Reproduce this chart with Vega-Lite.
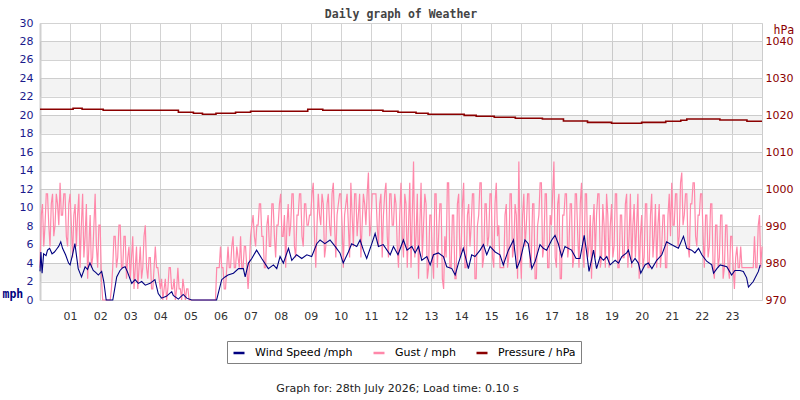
{
  "$schema": "https://vega.github.io/schema/vega-lite/v6.json",
  "width": 722,
  "height": 277,
  "autosize": {"type": "none"},
  "padding": {"left": 40, "top": 23, "right": 38, "bottom": 100},
  "background": "white",
  "title": {
    "text": "Daily graph of Weather",
    "font": "DejaVu Sans Mono",
    "fontSize": 11.5,
    "fontWeight": "bold",
    "color": "#444444",
    "anchor": "middle",
    "offset": 5,
    "dy": 8
  },
  "config": {
    "view": {"stroke": "#cccccc"},
    "axis": {"labelFont": "DejaVu Sans", "labelFontSize": 11, "labelOverlap": false}
  },
  "datasets": {
    "bands": [
      {"mph": 2, "mph2": 4}, {"mph": 6, "mph2": 8}, {"mph": 10, "mph2": 12},
      {"mph": 14, "mph2": 16}, {"mph": 18, "mph2": 20}, {"mph": 22, "mph2": 24},
      {"mph": 26, "mph2": 28}
    ],
    "gust": [
      {"t":0,"mph":3.5},{"t":0.042,"mph":9.2},{"t":0.083,"mph":10.4},{"t":0.125,"mph":5.8},{"t":0.167,"mph":8.1},{"t":0.208,"mph":11.5},{"t":0.25,"mph":11.5},{"t":0.292,"mph":8.1},{"t":0.333,"mph":5.8},{"t":0.375,"mph":10.4},{"t":0.417,"mph":11.5},{"t":0.458,"mph":6.9},{"t":0.5,"mph":8.1},{"t":0.542,"mph":11.5},{"t":0.583,"mph":10.4},{"t":0.625,"mph":8.1},{"t":0.667,"mph":12.7},{"t":0.708,"mph":9.2},{"t":0.75,"mph":9.2},{"t":0.792,"mph":11.5},{"t":0.833,"mph":11.5},{"t":0.875,"mph":6.9},{"t":0.917,"mph":5.8},{"t":0.958,"mph":10.4},
      {"t":1,"mph":11.5},{"t":1.042,"mph":8.1},{"t":1.083,"mph":4.6},{"t":1.125,"mph":9.2},{"t":1.167,"mph":10.4},{"t":1.208,"mph":5.8},{"t":1.25,"mph":9.2},{"t":1.292,"mph":11.5},{"t":1.333,"mph":3.5},{"t":1.375,"mph":8.1},{"t":1.417,"mph":11.5},{"t":1.458,"mph":4.6},{"t":1.5,"mph":6.9},{"t":1.542,"mph":10.4},{"t":1.583,"mph":2.3},{"t":1.625,"mph":5.8},{"t":1.667,"mph":9.2},{"t":1.708,"mph":3.5},{"t":1.75,"mph":4.6},{"t":1.792,"mph":8.1},{"t":1.833,"mph":11.5},{"t":1.875,"mph":5.8},{"t":1.917,"mph":3.5},{"t":1.958,"mph":8.1},
      {"t":2,"mph":8.1},{"t":2.042,"mph":2.3},{"t":2.083,"mph":0},{"t":2.125,"mph":0},{"t":2.167,"mph":0},{"t":2.208,"mph":0},{"t":2.25,"mph":0},{"t":2.292,"mph":0},{"t":2.333,"mph":0},{"t":2.375,"mph":1.2},{"t":2.417,"mph":3.5},{"t":2.458,"mph":6.9},{"t":2.5,"mph":6.9},{"t":2.542,"mph":3.5},{"t":2.583,"mph":4.6},{"t":2.625,"mph":8.1},{"t":2.667,"mph":8.1},{"t":2.708,"mph":3.5},{"t":2.75,"mph":3.5},{"t":2.792,"mph":6.9},{"t":2.833,"mph":6.9},{"t":2.875,"mph":2.3},{"t":2.917,"mph":4.6},{"t":2.958,"mph":5.8},
      {"t":3,"mph":2.3},{"t":3.042,"mph":4.6},{"t":3.083,"mph":6.9},{"t":3.125,"mph":1.2},{"t":3.167,"mph":3.5},{"t":3.208,"mph":5.8},{"t":3.25,"mph":1.2},{"t":3.292,"mph":3.5},{"t":3.333,"mph":5.8},{"t":3.375,"mph":2.3},{"t":3.417,"mph":3.5},{"t":3.458,"mph":6.9},{"t":3.5,"mph":8.1},{"t":3.542,"mph":3.5},{"t":3.583,"mph":2.3},{"t":3.625,"mph":4.6},{"t":3.667,"mph":4.6},{"t":3.708,"mph":1.2},{"t":3.75,"mph":1.2},{"t":3.792,"mph":3.5},{"t":3.833,"mph":5.8},{"t":3.875,"mph":3.5},{"t":3.917,"mph":3.5},{"t":3.958,"mph":2.3},
      {"t":4,"mph":1.2},{"t":4.042,"mph":2.3},{"t":4.083,"mph":0},{"t":4.125,"mph":1.2},{"t":4.167,"mph":2.3},{"t":4.208,"mph":0},{"t":4.25,"mph":1.2},{"t":4.292,"mph":3.5},{"t":4.333,"mph":3.5},{"t":4.375,"mph":1.2},{"t":4.417,"mph":1.2},{"t":4.458,"mph":2.3},{"t":4.5,"mph":0},{"t":4.542,"mph":1.2},{"t":4.583,"mph":3.5},{"t":4.625,"mph":1.2},{"t":4.667,"mph":1.2},{"t":4.708,"mph":0},{"t":4.75,"mph":2.3},{"t":4.792,"mph":1.2},{"t":4.833,"mph":0},{"t":4.875,"mph":1.2},{"t":4.917,"mph":1.2},{"t":4.958,"mph":0},
      {"t":5,"mph":0},{"t":5.042,"mph":0},{"t":5.083,"mph":0},{"t":5.125,"mph":0},{"t":5.167,"mph":0},{"t":5.208,"mph":0},{"t":5.25,"mph":0},{"t":5.292,"mph":0},{"t":5.333,"mph":0},{"t":5.375,"mph":0},{"t":5.417,"mph":0},{"t":5.458,"mph":0},{"t":5.5,"mph":0},{"t":5.542,"mph":0},{"t":5.583,"mph":0},{"t":5.625,"mph":0},{"t":5.667,"mph":0},{"t":5.708,"mph":0},{"t":5.75,"mph":0},{"t":5.792,"mph":0},{"t":5.833,"mph":0},{"t":5.875,"mph":3.5},{"t":5.917,"mph":3.5},{"t":5.958,"mph":3.5},
      {"t":6,"mph":5.8},{"t":6.042,"mph":3.5},{"t":6.083,"mph":3.5},{"t":6.125,"mph":1.2},{"t":6.167,"mph":1.2},{"t":6.208,"mph":3.5},{"t":6.25,"mph":5.8},{"t":6.292,"mph":3.5},{"t":6.333,"mph":3.5},{"t":6.375,"mph":5.8},{"t":6.417,"mph":6.9},{"t":6.458,"mph":3.5},{"t":6.5,"mph":3.5},{"t":6.542,"mph":5.8},{"t":6.583,"mph":4.6},{"t":6.625,"mph":3.5},{"t":6.667,"mph":6.9},{"t":6.708,"mph":3.5},{"t":6.75,"mph":3.5},{"t":6.792,"mph":5.8},{"t":6.833,"mph":5.8},{"t":6.875,"mph":3.5},{"t":6.917,"mph":1.2},{"t":6.958,"mph":3.5},
      {"t":7,"mph":6.9},{"t":7.042,"mph":8.1},{"t":7.083,"mph":9.2},{"t":7.125,"mph":6.9},{"t":7.167,"mph":5.8},{"t":7.208,"mph":8.1},{"t":7.25,"mph":8.1},{"t":7.292,"mph":10.4},{"t":7.333,"mph":10.4},{"t":7.375,"mph":6.9},{"t":7.417,"mph":6.9},{"t":7.458,"mph":3.5},{"t":7.5,"mph":3.5},{"t":7.542,"mph":8.1},{"t":7.583,"mph":9.2},{"t":7.625,"mph":5.8},{"t":7.667,"mph":5.8},{"t":7.708,"mph":10.4},{"t":7.75,"mph":10.4},{"t":7.792,"mph":6.9},{"t":7.833,"mph":4.6},{"t":7.875,"mph":8.1},{"t":7.917,"mph":8.1},{"t":7.958,"mph":10.4},
      {"t":8,"mph":11.5},{"t":8.042,"mph":6.9},{"t":8.083,"mph":6.9},{"t":8.125,"mph":9.2},{"t":8.167,"mph":3.5},{"t":8.208,"mph":8.1},{"t":8.25,"mph":10.4},{"t":8.292,"mph":6.9},{"t":8.333,"mph":8.1},{"t":8.375,"mph":11.5},{"t":8.417,"mph":11.5},{"t":8.458,"mph":5.8},{"t":8.5,"mph":4.6},{"t":8.542,"mph":9.2},{"t":8.583,"mph":9.2},{"t":8.625,"mph":11.5},{"t":8.667,"mph":11.5},{"t":8.708,"mph":6.9},{"t":8.75,"mph":5.8},{"t":8.792,"mph":10.4},{"t":8.833,"mph":10.4},{"t":8.875,"mph":8.1},{"t":8.917,"mph":8.1},{"t":8.958,"mph":9.2},
      {"t":9,"mph":9.2},{"t":9.042,"mph":11.5},{"t":9.083,"mph":12.7},{"t":9.125,"mph":6.9},{"t":9.167,"mph":3.5},{"t":9.208,"mph":8.1},{"t":9.25,"mph":11.5},{"t":9.292,"mph":9.2},{"t":9.333,"mph":8.1},{"t":9.375,"mph":11.5},{"t":9.417,"mph":10.4},{"t":9.458,"mph":4.6},{"t":9.5,"mph":5.8},{"t":9.542,"mph":10.4},{"t":9.583,"mph":11.5},{"t":9.625,"mph":8.1},{"t":9.667,"mph":6.9},{"t":9.708,"mph":11.5},{"t":9.75,"mph":12.7},{"t":9.792,"mph":8.1},{"t":9.833,"mph":4.6},{"t":9.875,"mph":9.2},{"t":9.917,"mph":10.4},{"t":9.958,"mph":11.5},
      {"t":10,"mph":11.5},{"t":10.042,"mph":8.1},{"t":10.083,"mph":3.5},{"t":10.125,"mph":9.2},{"t":10.167,"mph":10.4},{"t":10.208,"mph":11.5},{"t":10.25,"mph":8.1},{"t":10.292,"mph":4.6},{"t":10.333,"mph":12.7},{"t":10.375,"mph":9.2},{"t":10.417,"mph":5.8},{"t":10.458,"mph":11.5},{"t":10.5,"mph":11.5},{"t":10.542,"mph":6.9},{"t":10.583,"mph":9.2},{"t":10.625,"mph":11.5},{"t":10.667,"mph":4.6},{"t":10.708,"mph":8.1},{"t":10.75,"mph":11.5},{"t":10.792,"mph":10.4},{"t":10.833,"mph":8.1},{"t":10.875,"mph":11.5},{"t":10.917,"mph":13.8},{"t":10.958,"mph":6.9},
      {"t":11,"mph":8.1},{"t":11.042,"mph":11.5},{"t":11.083,"mph":11.5},{"t":11.125,"mph":11.5},{"t":11.167,"mph":11.5},{"t":11.208,"mph":8.1},{"t":11.25,"mph":5.8},{"t":11.292,"mph":10.4},{"t":11.333,"mph":11.5},{"t":11.375,"mph":4.6},{"t":11.417,"mph":9.2},{"t":11.458,"mph":11.5},{"t":11.5,"mph":12.7},{"t":11.542,"mph":6.9},{"t":11.583,"mph":4.6},{"t":11.625,"mph":11.5},{"t":11.667,"mph":11.5},{"t":11.708,"mph":8.1},{"t":11.75,"mph":8.1},{"t":11.792,"mph":11.5},{"t":11.833,"mph":10.4},{"t":11.875,"mph":5.8},{"t":11.917,"mph":3.5},{"t":11.958,"mph":9.2},
      {"t":12,"mph":12.7},{"t":12.042,"mph":6.9},{"t":12.083,"mph":4.6},{"t":12.125,"mph":11.5},{"t":12.167,"mph":10.4},{"t":12.208,"mph":3.5},{"t":12.25,"mph":8.1},{"t":12.292,"mph":12.7},{"t":12.333,"mph":3.5},{"t":12.375,"mph":9.2},{"t":12.417,"mph":15.0},{"t":12.458,"mph":4.6},{"t":12.5,"mph":6.9},{"t":12.542,"mph":11.5},{"t":12.583,"mph":2.3},{"t":12.625,"mph":8.1},{"t":12.667,"mph":12.7},{"t":12.708,"mph":4.6},{"t":12.75,"mph":8.1},{"t":12.792,"mph":11.5},{"t":12.833,"mph":10.4},{"t":12.875,"mph":2.3},{"t":12.917,"mph":3.5},{"t":12.958,"mph":9.2},
      {"t":13,"mph":9.2},{"t":13.042,"mph":4.6},{"t":13.083,"mph":2.3},{"t":13.125,"mph":11.5},{"t":13.167,"mph":11.5},{"t":13.208,"mph":3.5},{"t":13.25,"mph":6.9},{"t":13.292,"mph":10.4},{"t":13.333,"mph":10.4},{"t":13.375,"mph":2.3},{"t":13.417,"mph":1.2},{"t":13.458,"mph":6.9},{"t":13.5,"mph":4.6},{"t":13.542,"mph":12.7},{"t":13.583,"mph":12.7},{"t":13.625,"mph":3.5},{"t":13.667,"mph":3.5},{"t":13.708,"mph":9.2},{"t":13.75,"mph":9.2},{"t":13.792,"mph":2.3},{"t":13.833,"mph":2.3},{"t":13.875,"mph":10.4},{"t":13.917,"mph":11.5},{"t":13.958,"mph":4.6},
      {"t":14,"mph":5.8},{"t":14.042,"mph":10.4},{"t":14.083,"mph":12.7},{"t":14.125,"mph":3.5},{"t":14.167,"mph":3.5},{"t":14.208,"mph":9.2},{"t":14.25,"mph":10.4},{"t":14.292,"mph":5.8},{"t":14.333,"mph":8.1},{"t":14.375,"mph":11.5},{"t":14.417,"mph":11.5},{"t":14.458,"mph":2.3},{"t":14.5,"mph":2.3},{"t":14.542,"mph":8.1},{"t":14.583,"mph":9.2},{"t":14.625,"mph":12.7},{"t":14.667,"mph":12.7},{"t":14.708,"mph":3.5},{"t":14.75,"mph":4.6},{"t":14.792,"mph":10.4},{"t":14.833,"mph":10.4},{"t":14.875,"mph":5.8},{"t":14.917,"mph":6.9},{"t":14.958,"mph":11.5},
      {"t":15,"mph":11.5},{"t":15.042,"mph":4.6},{"t":15.083,"mph":3.5},{"t":15.125,"mph":10.4},{"t":15.167,"mph":12.7},{"t":15.208,"mph":6.9},{"t":15.25,"mph":8.1},{"t":15.292,"mph":3.5},{"t":15.333,"mph":3.5},{"t":15.375,"mph":3.5},{"t":15.417,"mph":3.5},{"t":15.458,"mph":9.2},{"t":15.5,"mph":10.4},{"t":15.542,"mph":3.5},{"t":15.583,"mph":4.6},{"t":15.625,"mph":11.5},{"t":15.667,"mph":11.5},{"t":15.708,"mph":4.6},{"t":15.75,"mph":5.8},{"t":15.792,"mph":10.4},{"t":15.833,"mph":9.2},{"t":15.875,"mph":2.3},{"t":15.917,"mph":15.0},{"t":15.958,"mph":5.8},
      {"t":16,"mph":2.3},{"t":16.042,"mph":9.2},{"t":16.083,"mph":11.5},{"t":16.125,"mph":5.8},{"t":16.167,"mph":8.1},{"t":16.208,"mph":11.5},{"t":16.25,"mph":11.5},{"t":16.292,"mph":3.5},{"t":16.333,"mph":4.6},{"t":16.375,"mph":10.4},{"t":16.417,"mph":10.4},{"t":16.458,"mph":2.3},{"t":16.5,"mph":2.3},{"t":16.542,"mph":8.1},{"t":16.583,"mph":9.2},{"t":16.625,"mph":12.7},{"t":16.667,"mph":12.7},{"t":16.708,"mph":4.6},{"t":16.75,"mph":5.8},{"t":16.792,"mph":11.5},{"t":16.833,"mph":11.5},{"t":16.875,"mph":3.5},{"t":16.917,"mph":3.5},{"t":16.958,"mph":9.2},
      {"t":17,"mph":8.1},{"t":17.042,"mph":11.5},{"t":17.083,"mph":15.0},{"t":17.125,"mph":4.6},{"t":17.167,"mph":3.5},{"t":17.208,"mph":10.4},{"t":17.25,"mph":11.5},{"t":17.292,"mph":2.3},{"t":17.333,"mph":2.3},{"t":17.375,"mph":9.2},{"t":17.417,"mph":9.2},{"t":17.458,"mph":11.5},{"t":17.5,"mph":11.5},{"t":17.542,"mph":4.6},{"t":17.583,"mph":5.8},{"t":17.625,"mph":10.4},{"t":17.667,"mph":10.4},{"t":17.708,"mph":3.5},{"t":17.75,"mph":4.6},{"t":17.792,"mph":11.5},{"t":17.833,"mph":11.5},{"t":17.875,"mph":6.9},{"t":17.917,"mph":3.5},{"t":17.958,"mph":10.4},
      {"t":18,"mph":12.7},{"t":18.042,"mph":5.8},{"t":18.083,"mph":3.5},{"t":18.125,"mph":11.5},{"t":18.167,"mph":11.5},{"t":18.208,"mph":4.6},{"t":18.25,"mph":5.8},{"t":18.292,"mph":9.2},{"t":18.333,"mph":2.3},{"t":18.375,"mph":8.1},{"t":18.417,"mph":10.4},{"t":18.458,"mph":4.6},{"t":18.5,"mph":9.2},{"t":18.542,"mph":11.5},{"t":18.583,"mph":11.5},{"t":18.625,"mph":3.5},{"t":18.667,"mph":4.6},{"t":18.708,"mph":10.4},{"t":18.75,"mph":8.1},{"t":18.792,"mph":3.5},{"t":18.833,"mph":11.5},{"t":18.875,"mph":9.2},{"t":18.917,"mph":3.5},{"t":18.958,"mph":8.1},
      {"t":19,"mph":10.4},{"t":19.042,"mph":4.6},{"t":19.083,"mph":5.8},{"t":19.125,"mph":11.5},{"t":19.167,"mph":11.5},{"t":19.208,"mph":3.5},{"t":19.25,"mph":3.5},{"t":19.292,"mph":9.2},{"t":19.333,"mph":9.2},{"t":19.375,"mph":4.6},{"t":19.417,"mph":4.6},{"t":19.458,"mph":10.4},{"t":19.5,"mph":11.5},{"t":19.542,"mph":3.5},{"t":19.583,"mph":6.9},{"t":19.625,"mph":11.5},{"t":19.667,"mph":3.5},{"t":19.708,"mph":8.1},{"t":19.75,"mph":10.4},{"t":19.792,"mph":4.6},{"t":19.833,"mph":8.1},{"t":19.875,"mph":11.5},{"t":19.917,"mph":2.3},{"t":19.958,"mph":6.9},
      {"t":20,"mph":9.2},{"t":20.042,"mph":3.5},{"t":20.083,"mph":4.6},{"t":20.125,"mph":10.4},{"t":20.167,"mph":10.4},{"t":20.208,"mph":3.5},{"t":20.25,"mph":3.5},{"t":20.292,"mph":9.2},{"t":20.333,"mph":11.5},{"t":20.375,"mph":4.6},{"t":20.417,"mph":6.9},{"t":20.458,"mph":10.4},{"t":20.5,"mph":3.5},{"t":20.542,"mph":8.1},{"t":20.583,"mph":10.4},{"t":20.625,"mph":3.5},{"t":20.667,"mph":5.8},{"t":20.708,"mph":9.2},{"t":20.75,"mph":9.2},{"t":20.792,"mph":3.5},{"t":20.833,"mph":3.5},{"t":20.875,"mph":9.2},{"t":20.917,"mph":11.5},{"t":20.958,"mph":6.9},
      {"t":21,"mph":12.7},{"t":21.042,"mph":8.1},{"t":21.083,"mph":8.1},{"t":21.125,"mph":11.5},{"t":21.167,"mph":11.5},{"t":21.208,"mph":5.8},{"t":21.25,"mph":6.9},{"t":21.292,"mph":12.7},{"t":21.333,"mph":13.8},{"t":21.375,"mph":8.1},{"t":21.417,"mph":9.2},{"t":21.458,"mph":11.5},{"t":21.5,"mph":11.5},{"t":21.542,"mph":5.8},{"t":21.583,"mph":4.6},{"t":21.625,"mph":10.4},{"t":21.667,"mph":10.4},{"t":21.708,"mph":12.7},{"t":21.75,"mph":12.7},{"t":21.792,"mph":6.9},{"t":21.833,"mph":5.8},{"t":21.875,"mph":9.2},{"t":21.917,"mph":9.2},{"t":21.958,"mph":11.5},
      {"t":22,"mph":11.5},{"t":22.042,"mph":6.9},{"t":22.083,"mph":3.5},{"t":22.125,"mph":9.2},{"t":22.167,"mph":9.2},{"t":22.208,"mph":4.6},{"t":22.25,"mph":5.8},{"t":22.292,"mph":10.4},{"t":22.333,"mph":10.4},{"t":22.375,"mph":3.5},{"t":22.417,"mph":2.3},{"t":22.458,"mph":8.1},{"t":22.5,"mph":8.1},{"t":22.542,"mph":3.5},{"t":22.583,"mph":4.6},{"t":22.625,"mph":9.2},{"t":22.667,"mph":9.2},{"t":22.708,"mph":2.3},{"t":22.75,"mph":3.5},{"t":22.792,"mph":8.1},{"t":22.833,"mph":8.1},{"t":22.875,"mph":3.5},{"t":22.917,"mph":2.3},{"t":22.958,"mph":6.9},
      {"t":23,"mph":6.9},{"t":23.042,"mph":3.5},{"t":23.083,"mph":1.2},{"t":23.125,"mph":4.6},{"t":23.167,"mph":5.8},{"t":23.208,"mph":3.5},{"t":23.25,"mph":3.5},{"t":23.292,"mph":5.8},{"t":23.333,"mph":3.5},{"t":23.375,"mph":3.5},{"t":23.417,"mph":3.5},{"t":23.458,"mph":3.5},{"t":23.5,"mph":3.5},{"t":23.542,"mph":3.5},{"t":23.583,"mph":3.5},{"t":23.625,"mph":3.5},{"t":23.667,"mph":3.5},{"t":23.708,"mph":3.5},{"t":23.75,"mph":6.9},{"t":23.792,"mph":3.5},{"t":23.833,"mph":3.5},{"t":23.875,"mph":8.1},{"t":23.917,"mph":9.2},{"t":23.958,"mph":3.5},
      {"t":24,"mph":5.8}
    ],
    "wind": [
      {"t":0,"mph":3.1},{"t":0.03,"mph":5.2},{"t":0.07,"mph":2.9},{"t":0.12,"mph":5.0},{"t":0.2,"mph":4.8},{"t":0.25,"mph":5.4},{"t":0.32,"mph":5.6},{"t":0.4,"mph":5.0},{"t":0.48,"mph":5.2},{"t":0.55,"mph":5.5},{"t":0.62,"mph":5.8},{"t":0.69,"mph":6.3},{"t":0.75,"mph":5.6},{"t":0.85,"mph":4.9},{"t":0.95,"mph":4.0},
      {"t":1.0,"mph":3.8},{"t":1.08,"mph":4.9},{"t":1.16,"mph":6.1},{"t":1.27,"mph":3.4},{"t":1.38,"mph":2.5},{"t":1.5,"mph":3.6},{"t":1.58,"mph":3.3},{"t":1.66,"mph":4.0},{"t":1.77,"mph":3.2},{"t":1.85,"mph":3.0},{"t":1.94,"mph":2.7},
      {"t":2.05,"mph":3.1},{"t":2.12,"mph":2.0},{"t":2.2,"mph":0},{"t":2.42,"mph":0},{"t":2.55,"mph":2.5},{"t":2.66,"mph":3.2},{"t":2.75,"mph":3.5},{"t":2.83,"mph":3.6},{"t":2.9,"mph":3.1},
      {"t":3.05,"mph":1.8},{"t":3.16,"mph":2.2},{"t":3.27,"mph":1.8},{"t":3.38,"mph":2.0},{"t":3.5,"mph":1.6},{"t":3.66,"mph":1.8},{"t":3.82,"mph":2.2},{"t":3.93,"mph":0.7},
      {"t":4.04,"mph":0.2},{"t":4.2,"mph":0.4},{"t":4.38,"mph":0.9},{"t":4.43,"mph":0.5},{"t":4.6,"mph":0.1},{"t":4.76,"mph":0.6},{"t":4.88,"mph":0.2},{"t":5.04,"mph":0},{"t":5.87,"mph":0},
      {"t":6.04,"mph":2.2},{"t":6.15,"mph":2.5},{"t":6.25,"mph":2.7},{"t":6.43,"mph":2.9},{"t":6.6,"mph":3.4},{"t":6.76,"mph":3.4},{"t":6.82,"mph":2.5},{"t":6.93,"mph":4.0},
      {"t":7.04,"mph":4.5},{"t":7.2,"mph":5.4},{"t":7.37,"mph":4.5},{"t":7.59,"mph":3.4},{"t":7.76,"mph":3.8},{"t":7.87,"mph":3.4},{"t":7.98,"mph":4.7},
      {"t":8.09,"mph":4.0},{"t":8.26,"mph":5.6},{"t":8.37,"mph":4.3},{"t":8.53,"mph":4.9},{"t":8.7,"mph":4.5},{"t":8.87,"mph":4.9},
      {"t":9.03,"mph":4.7},{"t":9.2,"mph":6.1},{"t":9.31,"mph":6.5},{"t":9.47,"mph":6.1},{"t":9.64,"mph":6.5},{"t":9.81,"mph":5.8},{"t":9.97,"mph":5.1},
      {"t":10.08,"mph":4.0},{"t":10.25,"mph":5.2},{"t":10.36,"mph":6.1},{"t":10.53,"mph":5.8},{"t":10.64,"mph":6.5},{"t":10.75,"mph":5.4},{"t":10.86,"mph":4.5},
      {"t":11.03,"mph":6.1},{"t":11.14,"mph":7.2},{"t":11.25,"mph":5.8},{"t":11.41,"mph":6.0},{"t":11.64,"mph":4.9},{"t":11.75,"mph":5.8},{"t":11.9,"mph":4.9},
      {"t":12.08,"mph":6.5},{"t":12.2,"mph":5.4},{"t":12.36,"mph":5.8},{"t":12.47,"mph":5.1},{"t":12.58,"mph":5.8},{"t":12.69,"mph":4.3},{"t":12.86,"mph":4.7},{"t":12.97,"mph":3.8},
      {"t":13.08,"mph":4.9},{"t":13.24,"mph":5.1},{"t":13.41,"mph":4.7},{"t":13.52,"mph":3.6},{"t":13.69,"mph":3.4},{"t":13.8,"mph":2.7},{"t":13.91,"mph":4.0},
      {"t":14.07,"mph":5.6},{"t":14.24,"mph":3.4},{"t":14.35,"mph":4.9},{"t":14.46,"mph":4.7},{"t":14.63,"mph":5.4},{"t":14.74,"mph":6.0},{"t":14.85,"mph":4.9},{"t":14.96,"mph":5.8},
      {"t":15.13,"mph":5.2},{"t":15.29,"mph":4.9},{"t":15.4,"mph":3.8},{"t":15.57,"mph":5.4},{"t":15.74,"mph":6.5},{"t":15.85,"mph":3.4},{"t":15.96,"mph":4.3},
      {"t":16.12,"mph":6.5},{"t":16.23,"mph":6.1},{"t":16.35,"mph":3.4},{"t":16.46,"mph":4.2},{"t":16.62,"mph":6.0},{"t":16.73,"mph":5.6},{"t":16.84,"mph":5.4},
      {"t":17.01,"mph":6.5},{"t":17.12,"mph":7.0},{"t":17.23,"mph":6.1},{"t":17.34,"mph":4.7},{"t":17.45,"mph":5.8},{"t":17.67,"mph":5.4},{"t":17.82,"mph":4.5},{"t":17.95,"mph":4.5},
      {"t":18.04,"mph":6.1},{"t":18.09,"mph":7.0},{"t":18.17,"mph":5.2},{"t":18.25,"mph":3.1},{"t":18.33,"mph":4.3},{"t":18.4,"mph":5.4},{"t":18.5,"mph":3.4},{"t":18.62,"mph":4.7},{"t":18.73,"mph":4.3},{"t":18.84,"mph":4.7},{"t":18.95,"mph":3.8},
      {"t":19.12,"mph":4.3},{"t":19.23,"mph":4.0},{"t":19.34,"mph":4.7},{"t":19.5,"mph":5.1},{"t":19.56,"mph":5.4},{"t":19.67,"mph":4.0},{"t":19.78,"mph":4.5},{"t":19.89,"mph":4.0},{"t":19.97,"mph":2.9},
      {"t":20.11,"mph":3.8},{"t":20.22,"mph":4.0},{"t":20.34,"mph":3.4},{"t":20.5,"mph":4.3},{"t":20.67,"mph":4.9},{"t":20.83,"mph":6.3},{"t":20.94,"mph":6.1},
      {"t":21.11,"mph":5.8},{"t":21.22,"mph":5.6},{"t":21.39,"mph":6.9},{"t":21.5,"mph":5.6},{"t":21.66,"mph":5.4},{"t":21.77,"mph":5.1},{"t":21.89,"mph":5.6},
      {"t":22.0,"mph":4.9},{"t":22.16,"mph":4.2},{"t":22.33,"mph":3.8},{"t":22.39,"mph":2.9},{"t":22.5,"mph":3.4},{"t":22.61,"mph":3.8},{"t":22.83,"mph":3.6},{"t":22.99,"mph":2.7},
      {"t":23.1,"mph":3.2},{"t":23.27,"mph":3.2},{"t":23.38,"mph":3.1},{"t":23.49,"mph":2.4},{"t":23.55,"mph":1.4},{"t":23.71,"mph":2.0},{"t":23.88,"mph":3.1},{"t":23.94,"mph":3.8}
    ],
    "pressure": [
      {"t":0,"hPa":1021.64},{"t":1.1,"hPa":1021.91},{"t":1.4,"hPa":1021.64},{"t":2.1,"hPa":1021.37},{"t":4.6,"hPa":1020.82},{"t":5.1,"hPa":1020.55},{"t":5.4,"hPa":1020.28},{"t":5.85,"hPa":1020.55},{"t":6.5,"hPa":1020.82},{"t":7.0,"hPa":1021.09},{"t":8.9,"hPa":1021.64},{"t":9.4,"hPa":1021.37},{"t":11.4,"hPa":1021.09},{"t":11.9,"hPa":1020.82},{"t":12.5,"hPa":1020.55},{"t":12.9,"hPa":1020.28},{"t":14.1,"hPa":1020.0},{"t":14.5,"hPa":1019.74},{"t":15.1,"hPa":1019.47},{"t":15.8,"hPa":1019.2},{"t":16.7,"hPa":1019.0},{"t":17.4,"hPa":1018.47},{"t":18.2,"hPa":1018.1},{"t":19.0,"hPa":1017.84},{"t":20.0,"hPa":1018.1},{"t":20.8,"hPa":1018.39},{"t":21.3,"hPa":1018.66},{"t":21.5,"hPa":1019.0},{"t":22.6,"hPa":1018.74},{"t":23.5,"hPa":1018.39},{"t":24,"hPa":1018.39}
    ]
  },
  "layer": [
    {
      "layer": [
        {
          "data": {"name": "bands"},
          "mark": {"type": "rect", "fill": "#000000", "opacity": 0.047},
          "encoding": {
            "y": {"field": "mph", "type": "quantitative"},
            "y2": {"field": "mph2"}
          }
        },
        {
          "data": {"name": "gust"},
          "mark": {"type": "line", "strokeWidth": 1.2},
          "encoding": {
            "x": {"field": "t", "type": "quantitative"},
            "y": {"field": "mph", "type": "quantitative"},
            "color": {"datum": "Gust / mph"}
          }
        },
        {
          "data": {"name": "wind"},
          "mark": {"type": "line", "strokeWidth": 1.1},
          "encoding": {
            "x": {"field": "t", "type": "quantitative",
              "scale": {"domain": [0, 24], "nice": false, "zero": false},
              "axis": {
                "values": [1,2,3,4,5,6,7,8,9,10,11,12,13,14,15,16,17,18,19,20,21,22,23],
                "tickCount": 100, "labelOverlap": false,
                "labelExpr": "datum.value < 10 ? '0' + datum.value : '' + datum.value",
                "grid": true, "gridColor": "#d3d3d3", "domain": false, "ticks": false,
                "labelColor": "#333333", "labelPadding": 10,
                "title": "Graph for: 28th July 2026; Load time: 0.10 s",
                "titleFont": "DejaVu Sans", "titleFontSize": 11, "titleFontWeight": "normal",
                "titleColor": "#222222", "titleX": 357, "titleY": 91,
                "titleAlign": "center", "titleBaseline": "alphabetic"
              }
            },
            "y": {"field": "mph", "type": "quantitative",
              "scale": {"domain": [0, 30], "nice": false},
              "axis": {
                "values": [0,2,4,6,8,10,12,14,16,18,20,22,24,26,28,30],
                "tickCount": 100, "labelOverlap": false, "format": "d",
                "grid": true, "gridColor": "#d3d3d3", "ticks": false,
                "domain": true, "domainColor": "#d0d0d0", "domainWidth": 2,
                "labelColor": "#1a1a8c", "labelPadding": 7,
                "title": "mph", "titleAngle": 0, "titleAlign": "left", "titleBaseline": "alphabetic",
                "titleX": -38, "titleY": 274, "titleFont": "DejaVu Sans Mono",
                "titleFontSize": 11.5, "titleFontWeight": "bold", "titleColor": "#000080"
              }
            },
            "color": {"datum": "Wind Speed /mph",
              "scale": {"domain": ["Wind Speed /mph", "Gust / mph", "Pressure / hPa"], "range": ["#000080", "#ff88aa", "#8b0000"]},
              "legend": {
                "orient": "none", "legendX": 187, "legendY": 318, "direction": "horizontal",
                "title": null, "strokeColor": "#808080", "fillColor": "white", "padding": 5,
                "symbolType": "stroke", "symbolStrokeWidth": 2.5, "symbolSize": 121,
                "labelFont": "DejaVu Sans", "labelFontSize": 11, "labelColor": "#000000",
                "labelOffset": 9, "columnPadding": 15
              }
            }
          }
        }
      ]
    },
    {
      "data": {"name": "pressure"},
      "mark": {"type": "line", "interpolate": "step-after", "strokeWidth": 1.6},
      "encoding": {
        "x": {"field": "t", "type": "quantitative"},
        "y": {"field": "hPa", "type": "quantitative",
          "scale": {"domain": [970, 1045], "nice": false, "zero": false},
          "axis": {
            "orient": "right",
            "values": [970, 980, 990, 1000, 1010, 1020, 1030, 1040],
            "tickCount": 100, "labelOverlap": false,
            "format": "d",
            "grid": false, "ticks": false, "domain": false,
            "labelColor": "#8b0000", "labelPadding": 3,
            "title": "hPa", "titleAngle": 0, "titleAlign": "left", "titleBaseline": "alphabetic",
            "titleX": 11, "titleY": 10, "titleFont": "DejaVu Sans Mono",
            "titleFontSize": 11.5, "titleFontWeight": "normal", "titleColor": "#8b0000"
          }
        },
        "color": {"datum": "Pressure / hPa"}
      }
    }
  ],
  "resolve": {"scale": {"y": "independent"}}
}
